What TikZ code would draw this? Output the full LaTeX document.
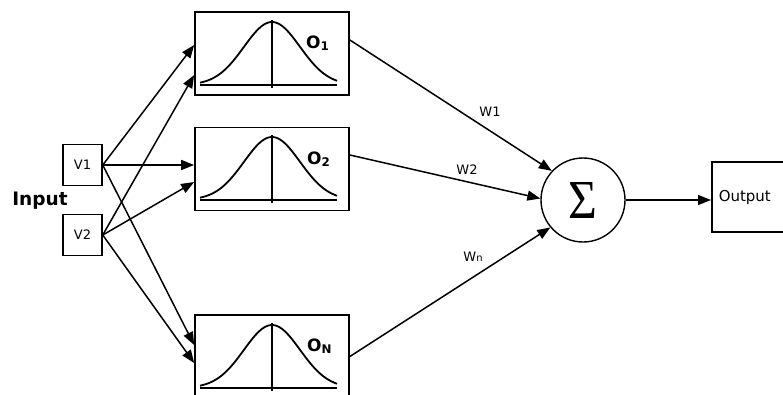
\documentclass[tikz,border=0pt]{standalone}
\usepackage[no-math]{fontspec}
\setmainfont{DejaVu Sans}
\newfontfamily\sigfont{Liberation Serif}
\usepackage{graphicx}
\usetikzlibrary{arrows.meta,calc}
\tikzset{
  vbox/.style={draw, line width=1.5pt, minimum width=39pt, minimum height=41pt, inner sep=0pt, font=\fontsize{13}{13}\selectfont},
  obox/.style={draw, line width=1.7pt, minimum width=154pt, minimum height=83pt, inner sep=0pt},
  olab/.style={anchor=base west, inner sep=0pt, font=\bfseries\fontsize{17}{17}\selectfont},
  wlab/.style={inner sep=0pt, font=\fontsize{13}{13}\selectfont},
  conn/.style={line width=1.5pt, -{Triangle[length=13pt,width=10pt]}},
  bell/.style={line width=1.8pt},
}
\begin{document}
\begin{tikzpicture}[x=1pt,y=-1pt]
\useasboundingbox (0,0) rectangle (783,394);
\clip (0,0) rectangle (783,394);
% input boxes
\node[vbox] (v1) at (82.5,165) {V1};
\node[vbox] (v2) at (82.5,235) {V2};
\node[inner sep=0pt, font=\bfseries\fontsize{18.5}{18.5}\selectfont] (inp) at (40,201) {Input};
% kernel boxes
\node[obox] (o1) at (272,53.5) {};
\node[obox] (o2) at (272,169) {};
\node[obox] (on) at (272,356.5) {};
\foreach \yb in {85,200,388} {
  \draw[bell] plot[domain=200:337,samples=80,smooth] (\x,{\yb-63*exp(-0.5*((\x-272)/28)^2)});
  \draw[bell] (200,\yb) -- (337,\yb);
  \draw[line width=1.5pt] (272,\yb-65) -- (272,\yb+3);
}
\node[olab] (l1) at (306,48) {O\textsubscript{1}};
\node[olab] (l2) at (307,164) {O\textsubscript{2}};
\node[olab] (ln) at (307,351) {O\textsubscript{N}};
% summation and output
\node[circle, draw, line width=1.4pt, minimum size=84pt, inner sep=0pt] (sig) at (583,200)
  {\scalebox{0.9}[1]{\sigfont\fontsize{55}{55}\selectfont Σ}};
\node[draw, line width=1.5pt, anchor=west, minimum height=70pt, text width=70pt, inner xsep=7pt, align=left,
  font=\fontsize{15}{15}\selectfont] (out) at (711,197) {Output};
% input connectors
\draw[conn] (v1.east) -- ([yshift=8.5pt]o1.west);
\draw[conn] (v2.east) -- ([yshift=-21.5pt]o1.west);
\draw[conn] (v1.east) -- ([yshift=4pt]o2.west);
\draw[conn] (v2.east) -- ([yshift=-13pt]o2.west);
\draw[conn] (v1.east) -- ([yshift=11.5pt]on.west);
\draw[conn] (v2.east) -- ([yshift=-6.5pt]on.west);
% weighted connectors
\draw[conn] ([yshift=13.5pt]o1.east) -- (sig.137);
\draw[conn] ([yshift=14pt]o2.east) -- (sig.178);
\draw[conn] (on.east) -- (sig.220);
\draw[conn] (sig.east) -- (sig.east -| out.west);
\node[wlab] (w1) at (490,112) {W1};
\node[wlab] (w2) at (467,170) {W2};
\node[wlab] (wn) at (473,257) {W{\fontsize{10}{10}\selectfont n}};
\end{tikzpicture}
\end{document}
